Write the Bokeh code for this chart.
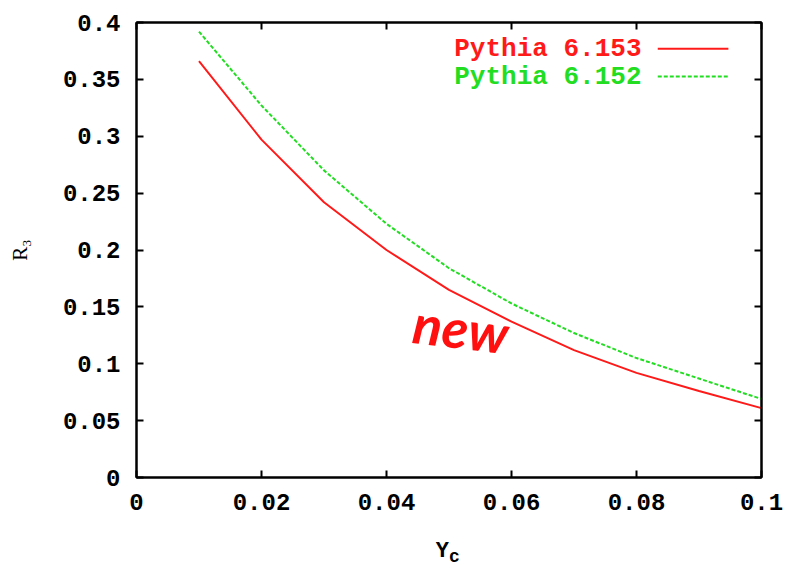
from bokeh.plotting import figure
from bokeh.models import FixedTicker, LinearAxis, Label, ColumnDataSource
from bokeh.embed import file_html
from bokeh.resources import INLINE

# R3 jet rate vs. y_cut for two Pythia versions
ycut = [0.01, 0.02, 0.03, 0.04, 0.05, 0.06, 0.07, 0.08, 0.09, 0.10]
r3_6153 = [0.366, 0.297, 0.242, 0.200, 0.165, 0.137, 0.112, 0.092, 0.076, 0.061]
r3_6152 = [0.392, 0.327, 0.270, 0.223, 0.184, 0.153, 0.127, 0.105, 0.087, 0.069]

x_ticks = [0, 0.02, 0.04, 0.06, 0.08, 0.1]
x_tick_labels = ["0", "0.02", "0.04", "0.06", "0.08", "0.1"]
y_ticks = [0, 0.05, 0.1, 0.15, 0.2, 0.25, 0.3, 0.35, 0.4]
y_tick_labels = ["0", "0.05", "0.1", "0.15", "0.2", "0.25", "0.3", "0.35", "0.4"]

series_names = ["Pythia 6.153", "Pythia 6.152"]
series_colors = ["#ff1a1a", "#22dd22"]
series_dash = ["solid", "4 2"]

FONT = "Liberation Mono"
NBSP = "\u00a0"

p = figure(width=793, height=571, x_range=(0, 0.1), y_range=(0, 0.4),
           output_backend="svg", toolbar_location=None,
           min_border_left=136, min_border_right=32, min_border_top=22, min_border_bottom=94)
p.xaxis.visible = False
p.yaxis.visible = False
p.grid.visible = False
p.outline_line_color = "black"
p.outline_line_width = 2
p.background_fill_color = "white"
p.border_fill_color = "white"


def style_axis(ax, show_labels, overrides, ticks):
    ax.ticker = FixedTicker(ticks=ticks)
    ax.major_label_overrides = {t: s for t, s in zip(ticks, overrides)}
    ax.major_tick_in = 7
    ax.major_tick_out = 0
    ax.minor_tick_line_color = None
    ax.major_tick_line_width = 2
    ax.axis_line_width = 2
    ax.major_label_text_font = FONT
    ax.major_label_text_font_style = "bold"
    ax.major_label_text_font_size = "24px"
    ax.major_label_text_color = "black"
    ax.axis_label_text_color = "black"
    if not show_labels:
        ax.major_label_text_font_size = "0px"
        ax.major_label_standoff = 0


bottom = LinearAxis(axis_label="Y" + NBSP)
style_axis(bottom, True, x_tick_labels, x_ticks)
bottom.major_label_standoff = 16
bottom.axis_label_text_font = FONT
bottom.axis_label_text_font_style = "bold"
bottom.axis_label_text_font_size = "22px"
bottom.axis_label_standoff = 26

left = LinearAxis(axis_label="R₃")
style_axis(left, True, y_tick_labels, y_ticks)
left.major_label_standoff = 16
left.axis_label_text_font = "Liberation Serif"
left.axis_label_text_font_style = "normal"
left.axis_label_text_font_size = "21px"
left.axis_label_standoff = 28

top = LinearAxis()
style_axis(top, False, x_tick_labels, x_ticks)
right = LinearAxis()
style_axis(right, False, y_tick_labels, y_ticks)
p.add_layout(bottom, "below")
p.add_layout(left, "left")
p.add_layout(top, "above")
p.add_layout(right, "right")

# subscript of the x title sits on its own bare axis just under the main one
sub = LinearAxis(axis_label=NBSP + "c")
sub.ticker = FixedTicker(ticks=[])
sub.axis_line_color = None
sub.major_tick_line_color = None
sub.minor_tick_line_color = None
sub.major_label_text_font_size = "0px"
sub.major_label_standoff = 0
sub.major_tick_out = 0
sub.major_tick_in = 0
sub.axis_label_text_font = FONT
sub.axis_label_text_font_style = "bold"
sub.axis_label_text_font_size = "18px"
sub.axis_label_text_color = "black"
sub.axis_label_standoff = -20
p.add_layout(sub, "below")

for vals, name, col, dash in zip([r3_6153, r3_6152], series_names, series_colors, series_dash):
    src = ColumnDataSource(dict(x=ycut, y=vals))
    p.line("x", "y", source=src, line_color=col, line_width=2, line_dash=dash)

# key, text right-aligned with the line sample to its right
key_y = [0.377, 0.3525]
for ky, name, col, dash in zip(key_y, series_names, series_colors, series_dash):
    p.add_layout(Label(x=0.0808, y=ky, text=name, text_font=FONT, text_font_style="bold",
                       text_font_size="26px", text_color=col, text_align="right",
                       text_baseline="middle"))
    p.segment(x0=[0.0834], y0=[ky], x1=[0.0947], y1=[ky], line_color=col,
              line_width=2, line_dash=dash)

# handwritten note
p.add_layout(Label(x=0.0437, y=0.108, text="new", text_font="Lato",
                   text_font_style="bold italic", text_font_size="54px",
                   text_color="#ff1010", angle=-0.12))

open("out.html", "w").write(file_html(p, INLINE))
